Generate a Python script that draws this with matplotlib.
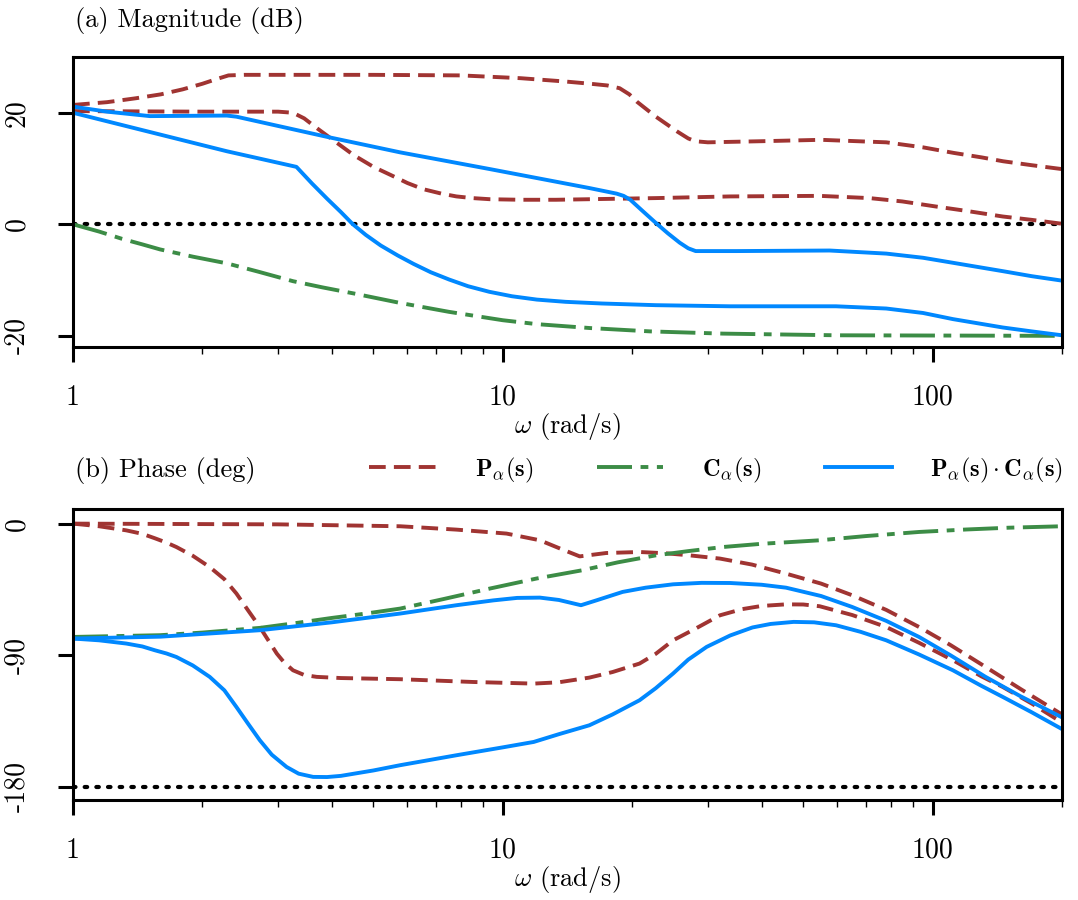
import numpy as np
import matplotlib
matplotlib.use("Agg")
import matplotlib.pyplot as plt
from matplotlib.ticker import FixedLocator, FixedFormatter, LogLocator, NullFormatter

plt.rcParams['font.family'] = 'serif'
plt.rcParams['font.serif'] = ['cmr10']
plt.rcParams['mathtext.fontset'] = 'cm'
plt.rcParams['axes.unicode_minus'] = False

# ---- magnitude (dB) ----
w_p1_mag = [1.0, 1.2, 1.4, 1.6, 1.8, 2.0, 2.15, 2.3, 2.5, 3.0, 5.0, 8.0, 11.0, 14.0, 16.0, 17.5, 18.7, 19.7, 20.5, 22.7, 25.5, 27.0, 28.0, 30.0, 40.0, 55.0, 78.0, 95.0, 112.0, 130.0, 146.0, 170.0, 200.0]
p1_mag = [21.4, 21.9, 22.6, 23.3, 24.2, 25.2, 26.0, 26.7, 26.8, 26.8, 26.8, 26.7, 26.2, 25.6, 25.2, 24.9, 24.4, 23.3, 22.0, 19.3, 16.6, 15.4, 14.9, 14.7, 14.9, 15.15, 14.7, 13.8, 12.8, 12.0, 11.3, 10.6, 9.9]

w_p2_mag = [1.0, 2.0, 3.0, 3.25, 3.45, 3.7, 4.03, 4.5, 5.0, 5.5, 6.0, 6.53, 7.2, 7.8, 8.5, 9.33, 11.0, 13.3, 22.7, 33.8, 54.6, 71.3, 85.0, 101.6, 120.0, 145.6, 170.0, 200.0]
p2_mag = [20.3, 20.2, 20.2, 20.0, 19.0, 17.2, 15.1, 12.4, 10.3, 8.8, 7.4, 6.3, 5.5, 5.0, 4.7, 4.5, 4.4, 4.4, 4.7, 5.0, 5.1, 4.7, 4.1, 3.2, 2.4, 1.4, 0.8, 0.1]

w_c_mag = [1.0, 1.15, 1.3, 1.45, 1.594, 1.9, 2.28, 2.7, 3.25, 3.8, 4.5, 5.77, 7.5, 10.0, 12.0, 15.94, 22.0, 32.5, 60.0, 200.0]
c_mag = [0.0, -1.3, -2.6, -3.6, -4.5, -5.8, -7.0, -8.5, -10.2, -11.3, -12.4, -14.1, -15.7, -17.2, -17.9, -18.6, -19.2, -19.6, -19.9, -20.0]

w_l1_mag = [1.0, 1.2, 1.51, 2.28, 2.4, 3.89, 5.77, 9.33, 15.9, 18.4, 19.1, 19.8, 21.0, 22.7, 24.2, 25.8, 27.0, 28.1, 35.0, 57.6, 78.0, 95.0, 111.5, 145.6, 170.0, 200.0]
l1_mag = [21.1, 20.2, 19.4, 19.5, 19.3, 15.7, 12.9, 9.9, 6.5, 5.5, 5.1, 4.4, 2.6, 0.25, -1.6, -3.3, -4.3, -4.8, -4.8, -4.7, -5.25, -6.0, -6.9, -8.4, -9.3, -10.1]

w_l2_mag = [1.0, 2.28, 3.31, 3.6, 3.9, 4.2, 4.48, 4.8, 5.2, 5.7, 6.2, 6.8, 7.5, 8.3, 9.3, 10.5, 12.0, 14.0, 17.0, 22.7, 33.8, 59.6, 78.0, 95.0, 111.5, 145.6, 170.0, 200.0]
l2_mag = [20.0, 13.1, 10.3, 7.3, 4.6, 2.2, 0.0, -1.9, -3.8, -5.6, -7.1, -8.6, -9.9, -11.1, -12.1, -12.9, -13.5, -13.9, -14.2, -14.5, -14.7, -14.7, -15.1, -15.9, -17.0, -18.5, -19.2, -19.9]

# ---- phase (deg) ----
w_p1_ph = [1.0, 3.0, 5.77, 7.8, 10.2, 12.2, 13.5, 15.1, 17.4, 20.8, 24.0, 27.2, 32.0, 38.0, 45.6, 55.0, 65.0, 78.0, 93.0, 110.0, 132.8, 160.0, 200.0]
p1_ph = [0.0, -0.5, -1.8, -4.1, -6.8, -11.4, -16.7, -22.4, -20.1, -19.4, -20.3, -21.7, -23.9, -28.0, -34.2, -41.0, -49.0, -59.0, -70.7, -83.0, -98.0, -113.0, -130.5]

w_p2_ph = [1.0, 1.15, 1.33, 1.45, 1.55, 1.65, 1.74, 1.9, 2.08, 2.25, 2.4, 2.55, 2.72, 2.85, 2.98, 3.1, 3.25, 3.45, 3.69, 4.2, 5.77, 8.53, 11.8, 13.5, 15.9, 18.0, 20.8, 22.7, 24.9, 28.0, 32.0, 36.0, 40.0, 45.6, 50.0, 54.6, 65.0, 78.0, 93.0, 111.5, 130.0, 145.6, 170.0, 200.0]
p2_ph = [0.0, -1.8, -4.6, -7.0, -10.0, -13.0, -16.0, -22.0, -29.7, -38.0, -47.8, -59.0, -70.7, -80.0, -88.9, -95.0, -100.3, -103.5, -104.8, -105.6, -106.4, -108.3, -109.4, -108.5, -105.3, -101.5, -95.7, -89.0, -79.8, -72.0, -62.7, -58.5, -56.3, -55.2, -55.3, -56.5, -62.5, -70.7, -81.5, -93.4, -104.5, -111.7, -123.0, -136.0]

w_c_ph = [1.0, 1.594, 2.0, 2.72, 3.3, 4.0, 4.8, 5.77, 7.3, 9.33, 12.0, 15.3, 18.5, 22.7, 27.0, 32.5, 40.0, 54.6, 70.0, 93.0, 120.0, 150.0, 200.0]
c_ph = [-77.5, -76.3, -74.5, -71.3, -68.0, -64.5, -61.5, -58.1, -51.5, -44.4, -37.5, -31.9, -26.5, -21.7, -18.8, -16.0, -13.8, -11.4, -8.5, -5.7, -4.0, -2.8, -1.8]

w_l1_ph = [1.0, 1.6, 2.72, 4.0, 5.77, 7.8, 9.5, 10.8, 12.2, 13.5, 15.2, 16.5, 19.0, 21.5, 24.9, 29.0, 33.8, 40.0, 45.6, 55.0, 65.0, 78.0, 93.0, 110.0, 132.8, 160.0, 200.0]
l1_ph = [-78.6, -77.3, -72.9, -67.5, -61.5, -55.8, -52.5, -50.8, -50.6, -52.2, -55.8, -52.5, -46.7, -43.8, -41.5, -40.5, -40.6, -41.8, -43.8, -49.5, -57.0, -66.5, -77.5, -90.0, -104.8, -118.0, -132.5]

w_l2_ph = [1.0, 1.15, 1.33, 1.45, 1.55, 1.65, 1.74, 1.9, 2.08, 2.25, 2.4, 2.55, 2.72, 2.9, 3.14, 3.35, 3.62, 3.9, 4.2, 5.0, 5.77, 7.8, 10.0, 11.8, 13.5, 15.9, 18.0, 20.8, 22.7, 24.9, 27.0, 29.8, 33.8, 38.1, 42.0, 47.5, 53.0, 59.6, 68.0, 78.0, 93.0, 111.5, 130.0, 145.6, 170.0, 200.0]
l2_ph = [-78.6, -79.8, -82.0, -84.0, -86.6, -88.8, -91.2, -97.0, -104.8, -114.0, -125.4, -136.5, -148.1, -158.0, -166.4, -171.0, -173.2, -173.3, -172.5, -168.8, -165.2, -158.4, -153.0, -149.3, -144.0, -137.9, -130.5, -120.8, -112.5, -102.5, -93.0, -84.3, -76.5, -71.0, -68.6, -67.2, -67.5, -69.5, -74.0, -79.8, -89.5, -100.3, -111.0, -118.5, -129.0, -140.5]

red = '#a03432'
green = '#3c8c46'
blue = '#0088ff'
lw = 2.8
red_dash = (4.3, 2.1)
green_dash = (9, 2.2, 2, 2.2)

fig = plt.figure(figsize=(10.78, 9.0), dpi=100)
ax1 = fig.add_axes([73/1078, 1-347/900, 989/1078, 290/900])
ax2 = fig.add_axes([73/1078, 1-800/900, 989/1078, 291/900])

# magnitude
ax1.axhline(0, color='k', lw=3.0, dashes=(0.6, 2.2), dash_capstyle='round')
ax1.semilogx(w_c_mag, c_mag, color=green, lw=lw, dashes=green_dash)
ax1.semilogx(w_p1_mag, p1_mag, color=red, lw=lw, dashes=red_dash)
ax1.semilogx(w_p2_mag, p2_mag, color=red, lw=lw, dashes=red_dash)
ax1.semilogx(w_l1_mag, l1_mag, color=blue, lw=lw)
ax1.semilogx(w_l2_mag, l2_mag, color=blue, lw=lw)
ax1.set_ylim(-22, 30)
ax1.set_yticks([-20, 0, 20])
ax1.set_yticklabels(['-20', '0', '20'])

# phase
ax2.axhline(-180, color='k', lw=3.0, dashes=(0.6, 2.2), dash_capstyle='round')
hp, = ax2.semilogx(w_p1_ph, p1_ph, color=red, lw=lw, dashes=red_dash)
ax2.semilogx(w_p2_ph, p2_ph, color=red, lw=lw, dashes=red_dash)
hc, = ax2.semilogx(w_c_ph, c_ph, color=green, lw=lw, dashes=green_dash)
hl, = ax2.semilogx(w_l1_ph, l1_ph, color=blue, lw=lw)
ax2.semilogx(w_l2_ph, l2_ph, color=blue, lw=lw)
ax2.set_ylim(-189, 10)
ax2.set_yticks([-180, -90, 0])
ax2.set_yticklabels(['-180', '-90', '0'])

for ax in (ax1, ax2):
    ax.set_xlim(1, 200)
    ax.xaxis.set_major_locator(FixedLocator([1, 10, 100]))
    ax.xaxis.set_major_formatter(FixedFormatter(['1', '10', '100']))
    ax.xaxis.set_minor_locator(LogLocator(base=10, subs=np.arange(2, 10), numticks=20))
    ax.xaxis.set_minor_formatter(NullFormatter())
    for s in ax.spines.values():
        s.set_linewidth(2.2)
    ax.tick_params(which='major', length=11, width=2.2, labelsize=20)
    ax.tick_params(which='minor', length=5, width=1.0)
    ax.tick_params(axis='x', which='major', pad=16)
    ax.tick_params(axis='y', labelrotation=90, pad=20)
    for t in ax.get_yticklabels():
        t.set_va('center')
    ax.set_xlabel(r'$\omega$ (rad/s)', fontsize=19, labelpad=0)

fig.text(75/1078, 1-20/900, '(a) Magnitude (dB)', fontsize=19, va='center', ha='left')
fig.text(75/1078, 1-470/900, '(b) Phase (deg)', fontsize=19, va='center', ha='left')

fig.legend([hp, hc, hl],
           [r'$\mathbf{P}_\alpha(\mathbf{s})$', r'$\mathbf{C}_\alpha(\mathbf{s})$',
            r'$\mathbf{P}_\alpha(\mathbf{s})\cdot\mathbf{C}_\alpha(\mathbf{s})$'],
           loc='center right', bbox_to_anchor=(1.0, 1-470/900), ncol=3, frameon=False,
           fontsize=17.5, handlelength=2.75, handletextpad=1.6, columnspacing=2.6,
           borderaxespad=0.2)

fig.savefig('out.png', dpi=100)
